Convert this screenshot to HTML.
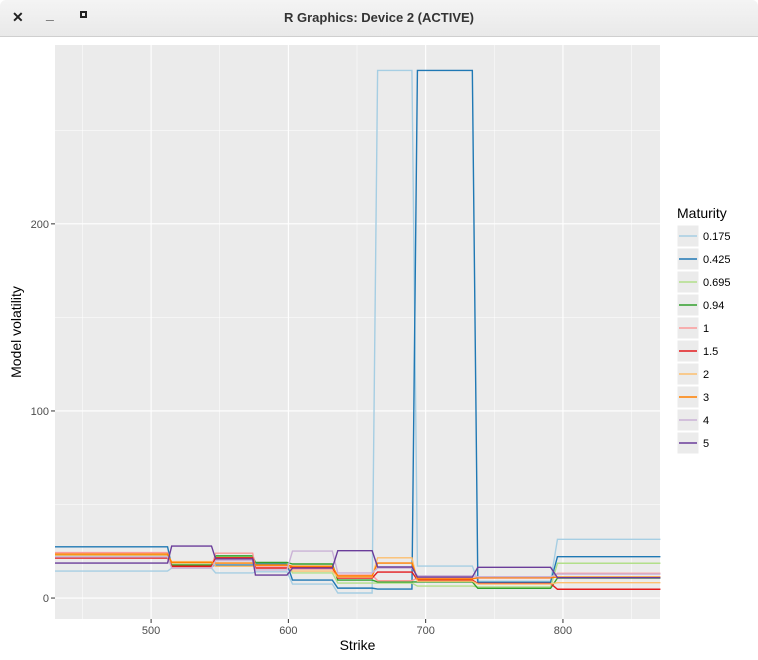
<!DOCTYPE html>
<html><head><meta charset="utf-8">
<style>
html,body{margin:0;padding:0;width:758px;height:660px;overflow:hidden;background:#fff;font-family:"Liberation Sans",sans-serif}
#titlebar{position:absolute;left:0;top:0;width:758px;height:36px;background:linear-gradient(#f4f4f4,#e9e9e9);border-bottom:1px solid #cfcfcf;border-radius:6px 6px 0 0}
#title{position:absolute;left:0;width:758px;top:10px;text-align:center;font-size:13px;font-weight:bold;color:#333}
.wb{position:absolute;top:9px;font-size:14px;color:#222;font-weight:bold}
svg{position:absolute;left:0;top:0}
</style></head><body>
<div id="titlebar">
<span class="wb" style="left:12px">✕</span>
<span class="wb" style="left:46px;top:6px">_</span>
<span class="wb" style="left:80px;top:11px;width:7px;height:7px;border:2px solid #222;box-sizing:border-box"></span>
<div id="title">R Graphics: Device 2 (ACTIVE)</div>
</div>
<svg id="chart" width="758" height="660"></svg>
<script>
const strikes=[430,512,515,544,547,574,576,599,603,632,636,661,665,690,694,734,738,791,796,871];
const maturities=["0.175","0.425","0.695","0.94","1","1.5","2","3","4","5"];
const colors=["#A6CEE3","#1F78B4","#B2DF8A","#33A02C","#FB9A99","#E31A1C","#FDBF6F","#FF7F00","#CAB2D6","#6A3D9A"];
// one value per flat segment (10 segments)
const v0175=[14.4,16,13.4,14,7.5,2.7,282,17.1,9,31.4];
const v0425=[27.4,17,17.6,18.2,9.6,5.3,4.8,282,8.4,22.1];
const v0695=[23,18,22,18.9,13.4,8,8,6.4,5.9,18.6];
const v094=[23,17.6,22.6,19,18.2,9.6,8.6,8.6,5.2,10.7];
const v1=[24.3,16.5,24,16.6,15.5,12.3,9.3,10.7,10.7,13.2];
const v15=[21.4,17,21.5,16,16.6,10.7,13.9,9.6,7.8,4.7];
const v2=[23,19.5,17,17.6,14.4,11.2,21.5,9,7.5,8.2];
const v3=[23.5,19,18.7,17.6,17,11.8,18.7,10.2,10.9,11.2];
const v4=[22,16,20,15,25.1,13.4,16,11.9,11.4,12.8];
const v5=[18.7,27.8,20.9,12.3,16,25.3,16.6,11.2,16.4,10.9];
const series=[v0175,v0425,v0695,v094,v1,v15,v2,v3,v4,v5];
const xTicks=[500,600,700,800];
const yTicks=[0,100,200];

const NS="http://www.w3.org/2000/svg";
const svg=document.getElementById('chart');
const L=55,R=660,T=45,B=619;
const xmin=430,xmax=870.7,ymin=-11.2,ymax=295.6;
const X=s=>L+(s-xmin)/(xmax-xmin)*(R-L);
const Y=v=>B-(v-ymin)/(ymax-ymin)*(B-T);
function mk(tag,attrs,parent){const e=document.createElementNS(NS,tag);for(const k in attrs)e.setAttribute(k,attrs[k]);(parent||svg).appendChild(e);return e;}
const panel=mk('rect',{x:L,y:T,width:R-L,height:B-T,fill:'#EBEBEB'});


const grid=mk('g',{});


for(let v=-50;v<=300;v+=50){if(v<ymin||v>ymax)continue;mk('line',{x1:L,x2:R,y1:Y(v),y2:Y(v),stroke:'#fff','stroke-width':v%100===0?1.1:0.5},grid);}
for(let s=450;s<=870;s+=50){mk('line',{y1:T,y2:B,x1:X(s),x2:X(s),stroke:'#fff','stroke-width':s%100===0?1.1:0.5},grid);}
series.forEach((vals,i)=>{
  const pts=[];
  vals.forEach((v,k)=>{pts.push(X(strikes[2*k])+','+Y(v));pts.push(X(strikes[2*k+1])+','+Y(v));});
  const p=mk('polyline',{points:pts.join(' '),fill:'none',stroke:colors[i],'stroke-width':1.4});
  
  
});
xTicks.forEach(t=>{
  mk('line',{x1:X(t),x2:X(t),y1:B,y2:B+4,stroke:'#333'});
  const tx=mk('text',{x:X(t),y:B+15,'text-anchor':'middle','font-size':11,fill:'#4D4D4D'});tx.textContent=t;
  
  
});
yTicks.forEach(t=>{
  mk('line',{x1:L-4,x2:L,y1:Y(t),y2:Y(t),stroke:'#333'});
  const tx=mk('text',{x:L-6,y:Y(t)+4,'text-anchor':'end','font-size':11,fill:'#4D4D4D'});tx.textContent=t;
  
  
});
const xt=mk('text',{x:(L+R)/2,y:650,'text-anchor':'middle','font-size':14,fill:'#000'});xt.textContent='Strike';


const yt=mk('text',{x:0,y:0,transform:'translate(21,'+((T+B)/2)+') rotate(-90)','text-anchor':'middle','font-size':14,fill:'#000'});yt.textContent='Model volatility';


const lg=mk('g',{});


const lt=mk('text',{x:677,y:218,'font-size':14,fill:'#000'},lg);lt.textContent='Maturity';


maturities.forEach((m,i)=>{
  const g=mk('g',{},lg);
  
  
  const y0=225+i*23;
  mk('rect',{x:677,y:y0,width:22,height:22,fill:'#EBEBEB',stroke:'#fff','stroke-width':1},g);
  mk('line',{x1:679,x2:697,y1:y0+11,y2:y0+11,stroke:colors[i],'stroke-width':1.6},g);
  const t=mk('text',{x:703,y:y0+15,'font-size':11,fill:'#000'},g);t.textContent=m;
});
</script>
</body></html>
